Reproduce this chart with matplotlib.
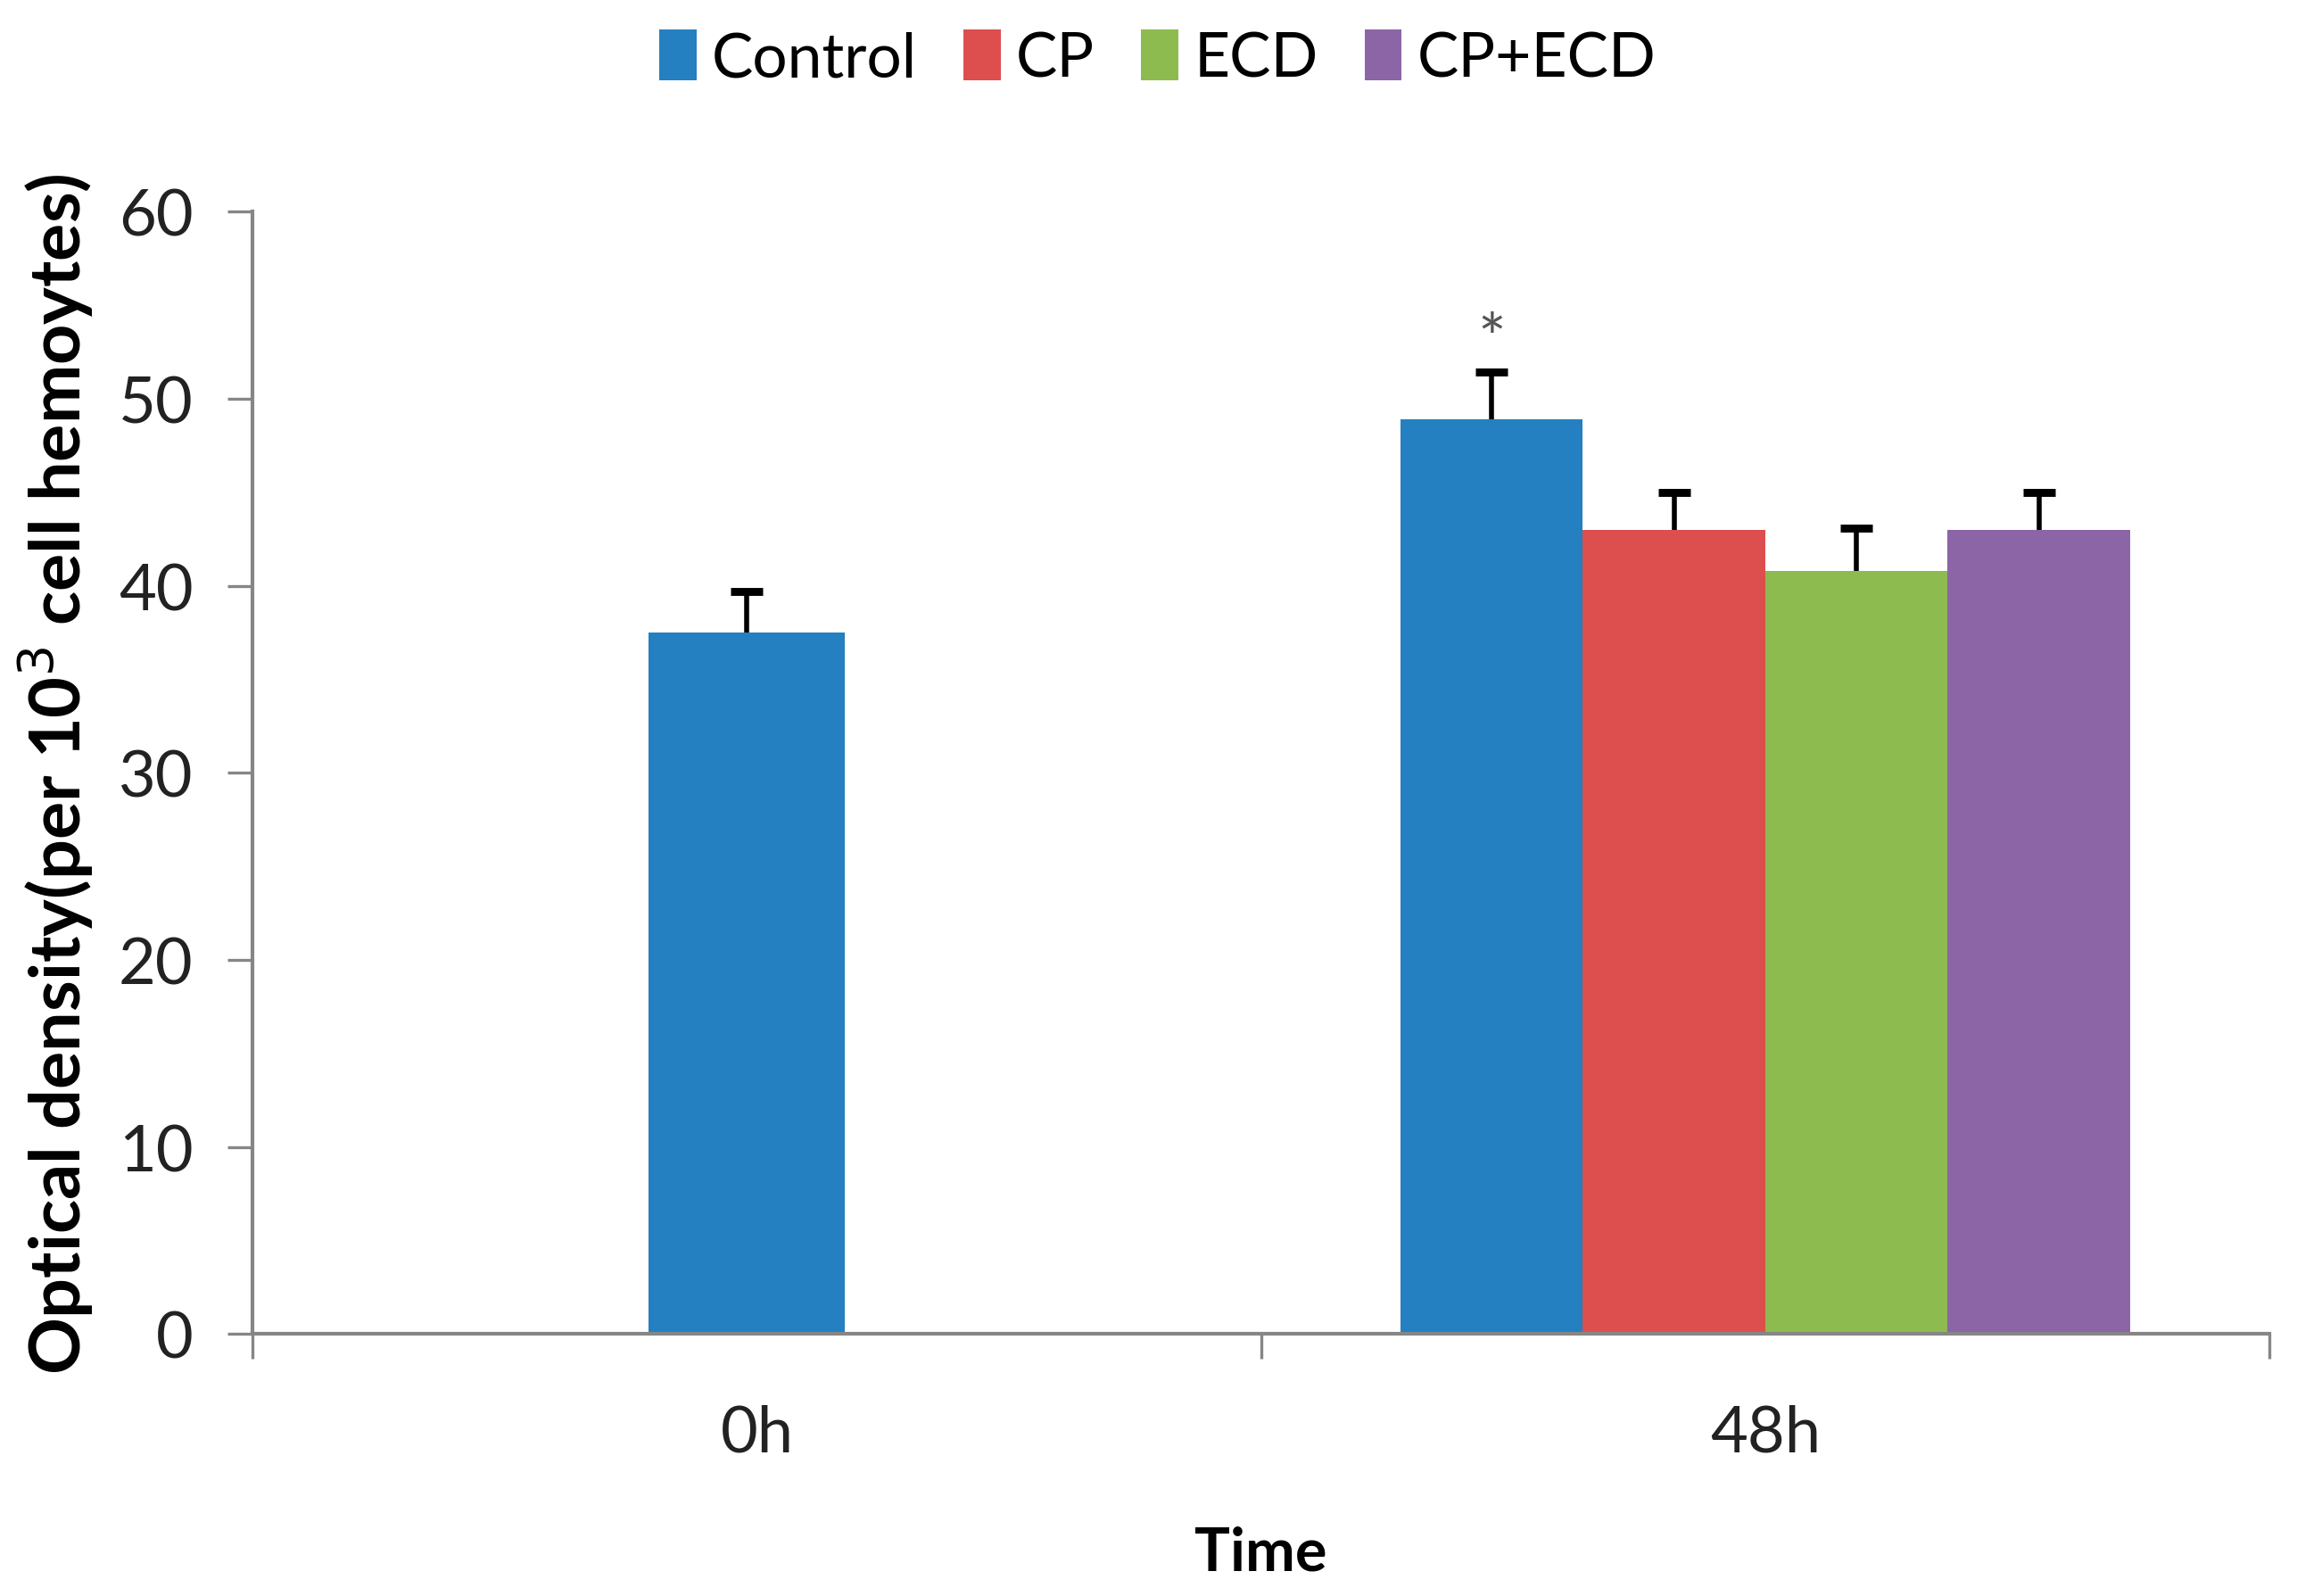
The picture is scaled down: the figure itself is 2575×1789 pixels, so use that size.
import matplotlib.pyplot as plt
import numpy as np

## data
times = ['0h', '48h']
groups = ['Control', 'CP', 'ECD', 'CP+ECD']
control_0h = 37.5
err_0h = 2.2
values_48h = [48.9, 43.0, 40.8, 43.0]
errors_48h = [2.5, 2.0, 2.3, 2.0]
colors = ['#2480C0', '#DD4F4E', '#8DBB50', '#8B65A5']
star_value = 53.0

plt.rcParams['font.family'] = ['Lato', 'DejaVu Sans']

fig = plt.figure(figsize=(12.875, 8.95), dpi=200, facecolor='white')
ax = fig.add_axes([0.110, 0.164, 0.878, 0.703])


def upper_err(x, y, e):
    # only the upper half of the error bar, as in the original
    eb = ax.errorbar(x, y, yerr=[[0], [e]], fmt='none', ecolor='black',
                     elinewidth=2.0, capsize=6.5, capthick=3.2)
    eb[1][0].set_visible(False)


## bars
w0 = 0.195
w = 0.181
ax.bar(-0.01, control_0h, width=w0, color=colors[0], linewidth=0)
upper_err(-0.01, control_0h, err_0h)

offsets = (np.arange(len(groups)) - 1.5) * w
bars = []
for i, g in enumerate(groups):
    b = ax.bar(1 + offsets[i], values_48h[i], width=w, color=colors[i], linewidth=0, label=g)
    bars.append(b)
    upper_err(1 + offsets[i], values_48h[i], errors_48h[i])

ax.text(1 + offsets[0], star_value, '*', ha='center', va='center', fontsize=27, color='#555555')

## axes
ax.set_xlim(-0.5, 1.5)
ax.set_ylim(0, 60)
ax.set_yticks(np.arange(0, 61, 10))
ax.set_xticks([-0.5, 0.5, 1.5])
ax.set_xticklabels([])
ax.set_xticks([0, 1], minor=True)
ax.set_xticklabels(times, minor=True)
ax.tick_params(axis='x', which='minor', length=0, pad=28, labelsize=26, labelcolor='#222222')
ax.tick_params(axis='x', which='major', length=10, width=1.2, color='#868686', direction='out')
ax.tick_params(axis='y', length=10, width=1.2, color='#868686', pad=14, labelsize=26, labelcolor='#222222')

for s in ['top', 'right']:
    ax.spines[s].set_visible(False)
for s in ['left', 'bottom']:
    ax.spines[s].set_color('#868686')
    ax.spines[s].set_linewidth(1.5)

ax.set_ylabel('Optical density(per 10$^3$ cell hemoytes)', fontsize=28.5, fontweight='bold')
ax.yaxis.set_label_coords(-0.078, 0.5)
ax.set_xlabel('Time', fontsize=24, fontweight='bold')
ax.xaxis.set_label_coords(0.5, -0.195)
ax.xaxis.label.set_va('center')

fig.legend(handles=bars, labels=groups, loc='center', bbox_to_anchor=(0.504, 0.963), ncol=4,
           frameon=False, fontsize=25, handlelength=0.6, handleheight=0.9, handletextpad=0.25,
           columnspacing=0.75)

plt.savefig('out.png', dpi=200)
